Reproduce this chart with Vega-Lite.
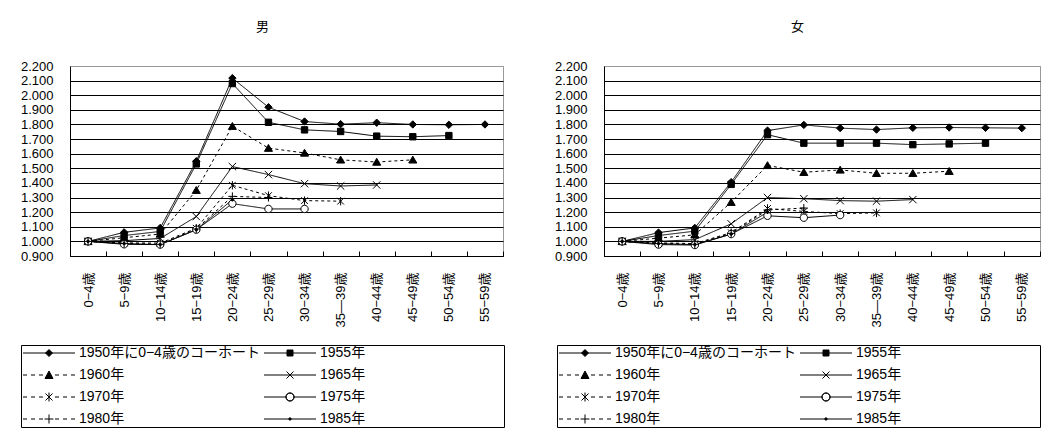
{
  "$schema": "https://vega.github.io/schema/vega-lite/v6.json",
  "background": "white",
  "padding": {"left": 19, "top": 20, "right": 5, "bottom": 0},
  "config": {
    "font": "Liberation Sans, Noto Sans CJK JP",
    "view": {"stroke": "#999", "strokeWidth": 1},
    "axis": {"domainColor": "black", "labelColor": "black", "labelFontSize": 13, "labelFont": "Liberation Sans, Noto Sans CJK JP", "labelOverlap": false, "tickColor": "black"},
    "legend": {"orient": "none", "direction": "horizontal", "legendX": -49, "legendY": 279, "columns": 2, "gridAlign": "all", "columnPadding": 0, "rowPadding": 8, "padding": 1, "strokeColor": "black", "symbolSize": 4, "symbolStrokeWidth": 1, "symbolOpacity": 1, "labelOffset": 43, "labelFontSize": 14, "labelLimit": 400, "labelColor": "black", "labelFont": "Liberation Sans, Noto Sans CJK JP"},
    "title": {"fontSize": 13, "fontWeight": "normal", "offset": 26, "anchor": "middle", "frame": "bounds", "color": "black", "font": "Liberation Sans, Noto Sans CJK JP"},
    "concat": {"spacing": 48}
  },
  "data": {"values": [
    {"sex":"男","cohort":"1950年に0−4歳のコーホート","age":"0−4歳","value":1.000},
    {"sex":"男","cohort":"1950年に0−4歳のコーホート","age":"5−9歳","value":1.062},
    {"sex":"男","cohort":"1950年に0−4歳のコーホート","age":"10−14歳","value":1.092},
    {"sex":"男","cohort":"1950年に0−4歳のコーホート","age":"15−19歳","value":1.548},
    {"sex":"男","cohort":"1950年に0−4歳のコーホート","age":"20−24歳","value":2.117},
    {"sex":"男","cohort":"1950年に0−4歳のコーホート","age":"25−29歳","value":1.918},
    {"sex":"男","cohort":"1950年に0−4歳のコーホート","age":"30−34歳","value":1.820},
    {"sex":"男","cohort":"1950年に0−4歳のコーホート","age":"35—39歳","value":1.802},
    {"sex":"男","cohort":"1950年に0−4歳のコーホート","age":"40−44歳","value":1.812},
    {"sex":"男","cohort":"1950年に0−4歳のコーホート","age":"45−49歳","value":1.800},
    {"sex":"男","cohort":"1950年に0−4歳のコーホート","age":"50−54歳","value":1.798},
    {"sex":"男","cohort":"1950年に0−4歳のコーホート","age":"55−59歳","value":1.800},
    {"sex":"男","cohort":"1955年","age":"0−4歳","value":1.000},
    {"sex":"男","cohort":"1955年","age":"5−9歳","value":1.040},
    {"sex":"男","cohort":"1955年","age":"10−14歳","value":1.068},
    {"sex":"男","cohort":"1955年","age":"15−19歳","value":1.530},
    {"sex":"男","cohort":"1955年","age":"20−24歳","value":2.080},
    {"sex":"男","cohort":"1955年","age":"25−29歳","value":1.815},
    {"sex":"男","cohort":"1955年","age":"30−34歳","value":1.763},
    {"sex":"男","cohort":"1955年","age":"35—39歳","value":1.752},
    {"sex":"男","cohort":"1955年","age":"40−44歳","value":1.720},
    {"sex":"男","cohort":"1955年","age":"45−49歳","value":1.716},
    {"sex":"男","cohort":"1955年","age":"50−54歳","value":1.724},
    {"sex":"男","cohort":"1960年","age":"0−4歳","value":1.000},
    {"sex":"男","cohort":"1960年","age":"5−9歳","value":1.025},
    {"sex":"男","cohort":"1960年","age":"10−14歳","value":1.050},
    {"sex":"男","cohort":"1960年","age":"15−19歳","value":1.350},
    {"sex":"男","cohort":"1960年","age":"20−24歳","value":1.788},
    {"sex":"男","cohort":"1960年","age":"25−29歳","value":1.638},
    {"sex":"男","cohort":"1960年","age":"30−34歳","value":1.605},
    {"sex":"男","cohort":"1960年","age":"35—39歳","value":1.558},
    {"sex":"男","cohort":"1960年","age":"40−44歳","value":1.543},
    {"sex":"男","cohort":"1960年","age":"45−49歳","value":1.558},
    {"sex":"男","cohort":"1965年","age":"0−4歳","value":1.000},
    {"sex":"男","cohort":"1965年","age":"5−9歳","value":1.005},
    {"sex":"男","cohort":"1965年","age":"10−14歳","value":1.020},
    {"sex":"男","cohort":"1965年","age":"15−19歳","value":1.170},
    {"sex":"男","cohort":"1965年","age":"20−24歳","value":1.512},
    {"sex":"男","cohort":"1965年","age":"25−29歳","value":1.457},
    {"sex":"男","cohort":"1965年","age":"30−34歳","value":1.395},
    {"sex":"男","cohort":"1965年","age":"35—39歳","value":1.379},
    {"sex":"男","cohort":"1965年","age":"40−44歳","value":1.386},
    {"sex":"男","cohort":"1970年","age":"0−4歳","value":1.000},
    {"sex":"男","cohort":"1970年","age":"5−9歳","value":0.990},
    {"sex":"男","cohort":"1970年","age":"10−14歳","value":0.988},
    {"sex":"男","cohort":"1970年","age":"15−19歳","value":1.090},
    {"sex":"男","cohort":"1970年","age":"20−24歳","value":1.384},
    {"sex":"男","cohort":"1970年","age":"25−29歳","value":1.313},
    {"sex":"男","cohort":"1970年","age":"30−34歳","value":1.279},
    {"sex":"男","cohort":"1970年","age":"35—39歳","value":1.275},
    {"sex":"男","cohort":"1975年","age":"0−4歳","value":1.000},
    {"sex":"男","cohort":"1975年","age":"5−9歳","value":0.980},
    {"sex":"男","cohort":"1975年","age":"10−14歳","value":0.978},
    {"sex":"男","cohort":"1975年","age":"15−19歳","value":1.080},
    {"sex":"男","cohort":"1975年","age":"20−24歳","value":1.258},
    {"sex":"男","cohort":"1975年","age":"25−29歳","value":1.222},
    {"sex":"男","cohort":"1975年","age":"30−34歳","value":1.222},
    {"sex":"男","cohort":"1980年","age":"0−4歳","value":1.000},
    {"sex":"男","cohort":"1980年","age":"5−9歳","value":0.985},
    {"sex":"男","cohort":"1980年","age":"10−14歳","value":0.980},
    {"sex":"男","cohort":"1980年","age":"15−19歳","value":1.085},
    {"sex":"男","cohort":"1980年","age":"20−24歳","value":1.308},
    {"sex":"男","cohort":"1980年","age":"25−29歳","value":1.300},
    {"sex":"男","cohort":"1985年","age":"0−4歳","value":1.000},
    {"sex":"男","cohort":"1985年","age":"5−9歳","value":0.985},
    {"sex":"男","cohort":"1985年","age":"10−14歳","value":0.978},
    {"sex":"男","cohort":"1985年","age":"15−19歳","value":1.080},
    {"sex":"男","cohort":"1985年","age":"20−24歳","value":1.285},
    {"sex":"女","cohort":"1950年に0−4歳のコーホート","age":"0−4歳","value":1.000},
    {"sex":"女","cohort":"1950年に0−4歳のコーホート","age":"5−9歳","value":1.060},
    {"sex":"女","cohort":"1950年に0−4歳のコーホート","age":"10−14歳","value":1.092},
    {"sex":"女","cohort":"1950年に0−4歳のコーホート","age":"15−19歳","value":1.405},
    {"sex":"女","cohort":"1950年に0−4歳のコーホート","age":"20−24歳","value":1.758},
    {"sex":"女","cohort":"1950年に0−4歳のコーホート","age":"25−29歳","value":1.797},
    {"sex":"女","cohort":"1950年に0−4歳のコーホート","age":"30−34歳","value":1.775},
    {"sex":"女","cohort":"1950年に0−4歳のコーホート","age":"35—39歳","value":1.765},
    {"sex":"女","cohort":"1950年に0−4歳のコーホート","age":"40−44歳","value":1.777},
    {"sex":"女","cohort":"1950年に0−4歳のコーホート","age":"45−49歳","value":1.779},
    {"sex":"女","cohort":"1950年に0−4歳のコーホート","age":"50−54歳","value":1.777},
    {"sex":"女","cohort":"1950年に0−4歳のコーホート","age":"55−59歳","value":1.775},
    {"sex":"女","cohort":"1955年","age":"0−4歳","value":1.000},
    {"sex":"女","cohort":"1955年","age":"5−9歳","value":1.040},
    {"sex":"女","cohort":"1955年","age":"10−14歳","value":1.070},
    {"sex":"女","cohort":"1955年","age":"15−19歳","value":1.390},
    {"sex":"女","cohort":"1955年","age":"20−24歳","value":1.730},
    {"sex":"女","cohort":"1955年","age":"25−29歳","value":1.672},
    {"sex":"女","cohort":"1955年","age":"30−34歳","value":1.672},
    {"sex":"女","cohort":"1955年","age":"35—39歳","value":1.672},
    {"sex":"女","cohort":"1955年","age":"40−44歳","value":1.662},
    {"sex":"女","cohort":"1955年","age":"45−49歳","value":1.667},
    {"sex":"女","cohort":"1955年","age":"50−54歳","value":1.672},
    {"sex":"女","cohort":"1960年","age":"0−4歳","value":1.000},
    {"sex":"女","cohort":"1960年","age":"5−9歳","value":1.022},
    {"sex":"女","cohort":"1960年","age":"10−14歳","value":1.045},
    {"sex":"女","cohort":"1960年","age":"15−19歳","value":1.268},
    {"sex":"女","cohort":"1960年","age":"20−24歳","value":1.520},
    {"sex":"女","cohort":"1960年","age":"25−29歳","value":1.473},
    {"sex":"女","cohort":"1960年","age":"30−34歳","value":1.489},
    {"sex":"女","cohort":"1960年","age":"35—39歳","value":1.466},
    {"sex":"女","cohort":"1960年","age":"40−44歳","value":1.466},
    {"sex":"女","cohort":"1960年","age":"45−49歳","value":1.480},
    {"sex":"女","cohort":"1965年","age":"0−4歳","value":1.000},
    {"sex":"女","cohort":"1965年","age":"5−9歳","value":1.000},
    {"sex":"女","cohort":"1965年","age":"10−14歳","value":1.012},
    {"sex":"女","cohort":"1965年","age":"15−19歳","value":1.120},
    {"sex":"女","cohort":"1965年","age":"20−24歳","value":1.300},
    {"sex":"女","cohort":"1965年","age":"25−29歳","value":1.292},
    {"sex":"女","cohort":"1965年","age":"30−34歳","value":1.279},
    {"sex":"女","cohort":"1965年","age":"35—39歳","value":1.275},
    {"sex":"女","cohort":"1965年","age":"40−44歳","value":1.286},
    {"sex":"女","cohort":"1970年","age":"0−4歳","value":1.000},
    {"sex":"女","cohort":"1970年","age":"5−9歳","value":0.990},
    {"sex":"女","cohort":"1970年","age":"10−14歳","value":0.985},
    {"sex":"女","cohort":"1970年","age":"15−19歳","value":1.060},
    {"sex":"女","cohort":"1970年","age":"20−24歳","value":1.225},
    {"sex":"女","cohort":"1970年","age":"25−29歳","value":1.205},
    {"sex":"女","cohort":"1970年","age":"30−34歳","value":1.190},
    {"sex":"女","cohort":"1970年","age":"35—39歳","value":1.195},
    {"sex":"女","cohort":"1975年","age":"0−4歳","value":1.000},
    {"sex":"女","cohort":"1975年","age":"5−9歳","value":0.978},
    {"sex":"女","cohort":"1975年","age":"10−14歳","value":0.975},
    {"sex":"女","cohort":"1975年","age":"15−19歳","value":1.050},
    {"sex":"女","cohort":"1975年","age":"20−24歳","value":1.175},
    {"sex":"女","cohort":"1975年","age":"25−29歳","value":1.162},
    {"sex":"女","cohort":"1975年","age":"30−34歳","value":1.180},
    {"sex":"女","cohort":"1980年","age":"0−4歳","value":1.000},
    {"sex":"女","cohort":"1980年","age":"5−9歳","value":0.985},
    {"sex":"女","cohort":"1980年","age":"10−14歳","value":0.980},
    {"sex":"女","cohort":"1980年","age":"15−19歳","value":1.055},
    {"sex":"女","cohort":"1980年","age":"20−24歳","value":1.215},
    {"sex":"女","cohort":"1980年","age":"25−29歳","value":1.228},
    {"sex":"女","cohort":"1985年","age":"0−4歳","value":1.000},
    {"sex":"女","cohort":"1985年","age":"5−9歳","value":0.985},
    {"sex":"女","cohort":"1985年","age":"10−14歳","value":0.978},
    {"sex":"女","cohort":"1985年","age":"15−19歳","value":1.050},
    {"sex":"女","cohort":"1985年","age":"20−24歳","value":1.200}
  ]},
  "hconcat": [
    {
      "width": 433, "height": 190,
      "title": {"text": "男"},
      "transform": [{"filter": "datum.sex === '男'"}],
      "encoding": {
        "x": {"field": "age", "type": "ordinal", "scale": {"type": "band", "domain": ["0−4歳","5−9歳","10−14歳","15−19歳","20−24歳","25−29歳","30−34歳","35—39歳","40−44歳","45−49歳","50−54歳","55−59歳"], "paddingInner": 0, "paddingOuter": 0}, "axis": {"title": null, "labelAngle": -90, "tickBand": "extent", "tickSize": -5, "labelPadding": 21, "domainColor": "black"}},
        "y": {"field": "value", "type": "quantitative", "scale": {"domain": [0.9, 2.2], "nice": false, "zero": false}, "axis": {"title": null, "values": [0.9,1.0,1.1,1.2,1.3,1.4,1.5,1.6,1.7,1.8,1.9,2.0,2.1,2.2], "format": ".3f", "ticks": false, "labelPadding": 17, "labelFlush": false, "gridColor": {"condition": {"test": "datum.value > 2.15", "value": "#999"}, "value": "black"}, "gridOpacity": 1}}
      },
      "layer": [
        {"mark": {"type": "line", "color": "black", "strokeWidth": 1},
         "encoding": {
           "order": {"value": null},
           "strokeDash": {"field": "cohort", "type": "nominal", "scale": {"domain": ["1950年に0−4歳のコーホート","1955年","1960年","1965年","1970年","1975年","1980年","1985年"], "range": [[1,0],[1,0],[3,3],[1,0],[3,3],[1,0],[3,3],[1,0]]}, "legend": null}
         }},
        {"mark": {"type": "point", "filled": true, "size": 45, "stroke": "black", "strokeWidth": 1, "opacity": 1},
         "encoding": {
           "fill": {"field": "cohort", "type": "nominal", "scale": {"domain": ["1950年に0−4歳のコーホート","1955年","1960年","1965年","1970年","1975年","1980年","1985年"], "range": ["black","black","black","black","black","white","black","black"]}, "legend": null},
           "shape": {"field": "cohort", "type": "nominal",
             "scale": {"domain": ["1950年に0−4歳のコーホート","1955年","1960年","1965年","1970年","1975年","1980年","1985年"],
               "range": ["M0,-1.1L1.1,0L0,1.1L-1.1,0Z","M-0.95,-0.95H0.95V0.95H-0.95Z","M0,-1.1L1.2,0.95L-1.2,0.95Z","M-1.1,-1.1L1.1,1.1M1.1,-1.1L-1.1,1.1","M-1,-1L1,1M1,-1L-1,1M0,-1.25V1.25","M-1.1,0A1.1,1.1 0 1,1 1.1,0A1.1,1.1 0 1,1 -1.1,0Z","M-1.2,0H1.2M0,-1.2V1.2","M-0.4,0A0.4,0.4 0 1,1 0.4,0A0.4,0.4 0 1,1 -0.4,0Z"]},
             "legend": null}
         }},
        {"transform": [{"filter": "false"}],
         "mark": {"type": "point", "filled": true, "color": "black", "stroke": "black", "strokeWidth": 1},
         "encoding": {
           "shape": {"field": "cohort", "type": "nominal",
             "scale": {"domain": ["1950年に0−4歳のコーホート","1955年","1960年","1965年","1970年","1975年","1980年","1985年"],
               "range": ["M-6,0H46M20,-3.5L23.5,0L20,3.5L16.5,0Z","M-6,0H46M17,-3H23V3H17ZM231,0","M-6,0H-2M2,0H6M10,0H14M26,0H30M34,0H38M42,0H46M20,-4L24,3.5L16,3.5Z","M-6,0H46M16.5,-3.5L23.5,3.5M23.5,-3.5L16.5,3.5M231,0","M-6,0H-2M2,0H6M10,0H14M26,0H30M34,0H38M42,0H46M16.5,-3.5L23.5,3.5M23.5,-3.5L16.5,3.5M20,-4.5V4.5","M-6,0H16M24,0H46M16,0A4,4 0 1,1 24,0A4,4 0 1,1 16,0ZM16,0A4,4 0 1,0 24,0A4,4 0 1,0 16,0ZM231,0","M-6,0H-2M2,0H6M10,0H14M26,0H30M34,0H38M42,0H46M15.5,0H24.5M20,-4.5V4.5","M-6,0H46M18.8,0A1.2,1.2 0 1,1 21.2,0A1.2,1.2 0 1,1 18.8,0ZM231,0"]},
             "legend": {"title": null}}
         }}
      ],
      "resolve": {"scale": {"shape": "independent"}}
    },
    {
      "width": 436, "height": 190,
      "title": {"text": "女"},
      "transform": [{"filter": "datum.sex === '女'"}],
      "encoding": {
        "x": {"field": "age", "type": "ordinal", "scale": {"type": "band", "domain": ["0−4歳","5−9歳","10−14歳","15−19歳","20−24歳","25−29歳","30−34歳","35—39歳","40−44歳","45−49歳","50−54歳","55−59歳"], "paddingInner": 0, "paddingOuter": 0}, "axis": {"title": null, "labelAngle": -90, "tickBand": "extent", "tickSize": -5, "labelPadding": 21, "domainColor": "black"}},
        "y": {"field": "value", "type": "quantitative", "scale": {"domain": [0.9, 2.2], "nice": false, "zero": false}, "axis": {"title": null, "values": [0.9,1.0,1.1,1.2,1.3,1.4,1.5,1.6,1.7,1.8,1.9,2.0,2.1,2.2], "format": ".3f", "ticks": false, "labelPadding": 17, "labelFlush": false, "gridColor": {"condition": {"test": "datum.value > 2.15", "value": "#999"}, "value": "black"}, "gridOpacity": 1}}
      },
      "layer": [
        {"mark": {"type": "line", "color": "black", "strokeWidth": 1},
         "encoding": {
           "order": {"value": null},
           "strokeDash": {"field": "cohort", "type": "nominal", "scale": {"domain": ["1950年に0−4歳のコーホート","1955年","1960年","1965年","1970年","1975年","1980年","1985年"], "range": [[1,0],[1,0],[3,3],[1,0],[3,3],[1,0],[3,3],[1,0]]}, "legend": null}
         }},
        {"mark": {"type": "point", "filled": true, "size": 45, "stroke": "black", "strokeWidth": 1, "opacity": 1},
         "encoding": {
           "fill": {"field": "cohort", "type": "nominal", "scale": {"domain": ["1950年に0−4歳のコーホート","1955年","1960年","1965年","1970年","1975年","1980年","1985年"], "range": ["black","black","black","black","black","white","black","black"]}, "legend": null},
           "shape": {"field": "cohort", "type": "nominal",
             "scale": {"domain": ["1950年に0−4歳のコーホート","1955年","1960年","1965年","1970年","1975年","1980年","1985年"],
               "range": ["M0,-1.1L1.1,0L0,1.1L-1.1,0Z","M-0.95,-0.95H0.95V0.95H-0.95Z","M0,-1.1L1.2,0.95L-1.2,0.95Z","M-1.1,-1.1L1.1,1.1M1.1,-1.1L-1.1,1.1","M-1,-1L1,1M1,-1L-1,1M0,-1.25V1.25","M-1.1,0A1.1,1.1 0 1,1 1.1,0A1.1,1.1 0 1,1 -1.1,0Z","M-1.2,0H1.2M0,-1.2V1.2","M-0.4,0A0.4,0.4 0 1,1 0.4,0A0.4,0.4 0 1,1 -0.4,0Z"]},
             "legend": null}
         }},
        {"transform": [{"filter": "false"}],
         "mark": {"type": "point", "filled": true, "color": "black", "stroke": "black", "strokeWidth": 1},
         "encoding": {
           "shape": {"field": "cohort", "type": "nominal",
             "scale": {"domain": ["1950年に0−4歳のコーホート","1955年","1960年","1965年","1970年","1975年","1980年","1985年"],
               "range": ["M-6,0H46M20,-3.5L23.5,0L20,3.5L16.5,0Z","M-6,0H46M17,-3H23V3H17ZM231,0","M-6,0H-2M2,0H6M10,0H14M26,0H30M34,0H38M42,0H46M20,-4L24,3.5L16,3.5Z","M-6,0H46M16.5,-3.5L23.5,3.5M23.5,-3.5L16.5,3.5M231,0","M-6,0H-2M2,0H6M10,0H14M26,0H30M34,0H38M42,0H46M16.5,-3.5L23.5,3.5M23.5,-3.5L16.5,3.5M20,-4.5V4.5","M-6,0H16M24,0H46M16,0A4,4 0 1,1 24,0A4,4 0 1,1 16,0ZM16,0A4,4 0 1,0 24,0A4,4 0 1,0 16,0ZM231,0","M-6,0H-2M2,0H6M10,0H14M26,0H30M34,0H38M42,0H46M15.5,0H24.5M20,-4.5V4.5","M-6,0H46M18.8,0A1.2,1.2 0 1,1 21.2,0A1.2,1.2 0 1,1 18.8,0ZM231,0"]},
             "legend": {"title": null, "legendX": -47}}
         }}
      ],
      "resolve": {"scale": {"shape": "independent"}}
    }
  ],
  "resolve": {"scale": {"shape": "independent"}, "legend": {"shape": "independent"}}
}
